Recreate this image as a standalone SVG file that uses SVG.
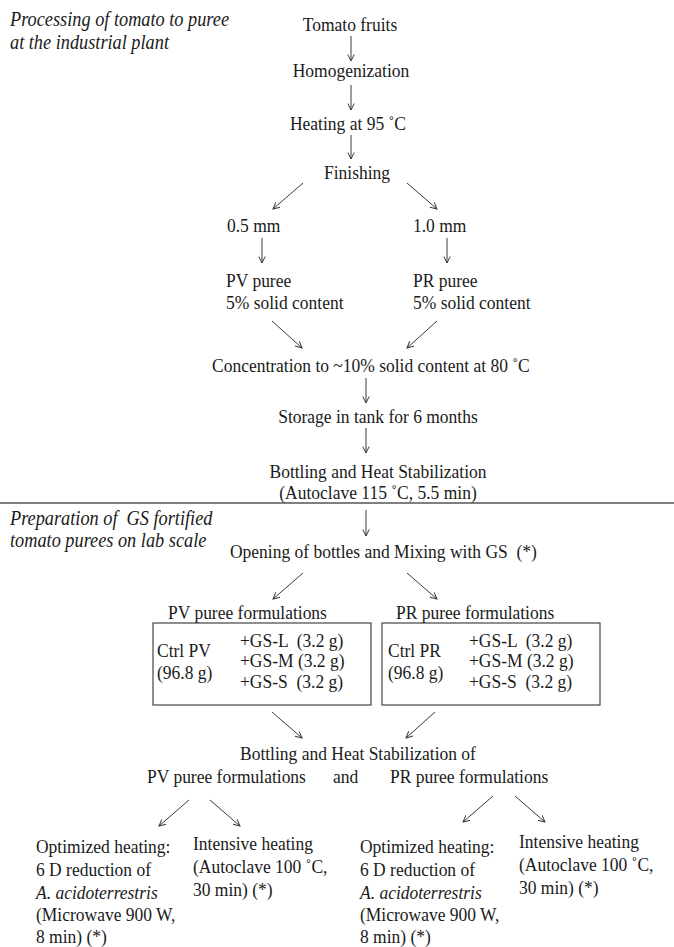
<svg xmlns="http://www.w3.org/2000/svg" width="674" height="947" viewBox="0 0 674 947">
<style>
text{font-family:"Liberation Serif","Times New Roman",serif;font-size:17.5px;fill:#1a1a1a;white-space:pre}
.it{font-style:italic}
.lab{font-size:18.3px}
.m{text-anchor:middle}
.c{stroke:#3a3a3a;stroke-width:1;fill:none;marker-end:url(#ah)}
.box{fill:none;stroke:#444;stroke-width:1.2}
</style>
<defs>
<marker id="ah" markerWidth="10" markerHeight="10" refX="7" refY="4" orient="auto" markerUnits="userSpaceOnUse">
<path d="M0.5,0.8 L7,4 L0.5,7.2" fill="none" stroke="#3a3a3a" stroke-width="1"/>
</marker>
</defs>
<rect width="674" height="947" fill="#fff"/>
<g id="section-labels">
<text class="it lab" x="10" y="26" transform="matrix(1 0 0 1.1 0 -2.6)">Processing of tomato to puree</text>
<text class="it lab" x="10" y="49" transform="matrix(1 0 0 1.1 0 -4.9)">at the industrial plant</text>
<text class="it lab" x="10" y="525" transform="matrix(1 0 0 1.1 0 -52.5)">Preparation of  GS fortified</text>
<text class="it lab" x="10" y="547" transform="matrix(1 0 0 1.1 0 -54.7)">tomato purees on lab scale</text>
</g>
<line id="separator" x1="0" y1="503" x2="674" y2="503" stroke="#555" stroke-width="1.5"/>
<g id="n-tomato"><text class="m" x="350" y="31" transform="matrix(1 0 0 1.1 0 -3.1)">Tomato fruits</text></g>
<g id="n-homog"><text class="m" x="351" y="77" transform="matrix(1 0 0 1.1 0 -7.7)">Homogenization</text></g>
<g id="n-heating"><text class="m" x="348" y="130" transform="matrix(1 0 0 1.1 0 -13)">Heating at 95 ˚C</text></g>
<g id="n-finishing"><text class="m" x="357" y="179" transform="matrix(1 0 0 1.1 0 -17.9)">Finishing</text></g>
<g id="n-05"><text x="227" y="232" transform="matrix(1 0 0 1.1 0 -23.2)">0.5 mm</text></g>
<g id="n-10"><text x="413" y="232" transform="matrix(1 0 0 1.1 0 -23.2)">1.0 mm</text></g>
<g id="n-pv"><text x="226" y="287" transform="matrix(1 0 0 1.1 0 -28.7)">PV puree</text><text x="226" y="309" transform="matrix(1 0 0 1.1 0 -30.9)">5% solid content</text></g>
<g id="n-pr"><text x="413" y="287" transform="matrix(1 0 0 1.1 0 -28.7)">PR puree</text><text x="413" y="309" transform="matrix(1 0 0 1.1 0 -30.9)">5% solid content</text></g>
<g id="n-conc"><text x="212" y="372" transform="matrix(1 0 0 1.1 0 -37.2)">Concentration to ~10% solid content at 80 ˚C</text></g>
<g id="n-storage"><text class="m" x="378" y="423" transform="matrix(1 0 0 1.1 0 -42.3)">Storage in tank for 6 months</text></g>
<g id="n-bottling1"><text class="m" x="378" y="478" transform="matrix(1 0 0 1.1 0 -47.8)">Bottling and Heat Stabilization</text><text class="m" x="378" y="499" transform="matrix(1 0 0 1.1 0 -49.9)">(Autoclave 115 ˚C, 5.5 min)</text></g>
<g id="n-opening"><text x="230" y="558" transform="matrix(1 0 0 1.1 0 -55.8)">Opening of bottles and Mixing with GS  (*)</text></g>
<g id="n-pvform">
<text x="168" y="619" transform="matrix(1 0 0 1.1 0 -61.9)">PV puree formulations</text>
<rect class="box" x="153" y="623" width="218" height="82"/>
<text x="157" y="657" transform="matrix(1 0 0 1.1 0 -65.7)">Ctrl PV</text>
<text x="157" y="679" transform="matrix(1 0 0 1.1 0 -67.9)">(96.8 g)</text>
<text x="240" y="647" transform="matrix(1 0 0 1.1 0 -64.7)">+GS-L  (3.2 g)</text>
<text x="240" y="667" transform="matrix(1 0 0 1.1 0 -66.7)">+GS-M (3.2 g)</text>
<text x="240" y="688" transform="matrix(1 0 0 1.1 0 -68.8)">+GS-S  (3.2 g)</text>
</g>
<g id="n-prform">
<text x="396" y="619" transform="matrix(1 0 0 1.1 0 -61.9)">PR puree formulations</text>
<rect class="box" x="382" y="623" width="218" height="82"/>
<text x="388" y="657" transform="matrix(1 0 0 1.1 0 -65.7)">Ctrl PR</text>
<text x="388" y="679" transform="matrix(1 0 0 1.1 0 -67.9)">(96.8 g)</text>
<text x="469" y="647" transform="matrix(1 0 0 1.1 0 -64.7)">+GS-L  (3.2 g)</text>
<text x="469" y="667" transform="matrix(1 0 0 1.1 0 -66.7)">+GS-M (3.2 g)</text>
<text x="469" y="688" transform="matrix(1 0 0 1.1 0 -68.8)">+GS-S  (3.2 g)</text>
</g>
<g id="n-bottling2">
<text x="240" y="760" transform="matrix(1 0 0 1.1 0 -76)">Bottling and Heat Stabilization of</text>
<text x="147" y="783" transform="matrix(1 0 0 1.1 0 -78.3)">PV puree formulations</text>
<text x="333" y="783" transform="matrix(1 0 0 1.1 0 -78.3)">and</text>
<text x="390" y="783" transform="matrix(1 0 0 1.1 0 -78.3)">PR puree formulations</text>
</g>
<g id="n-opt-pv">
<text x="36" y="853" transform="matrix(1 0 0 1.1 0 -85.3)">Optimized heating:</text>
<text x="36" y="876" transform="matrix(1 0 0 1.1 0 -87.6)">6 D reduction of</text>
<text class="it" x="36" y="899" transform="matrix(1 0 0 1.1 0 -89.9)">A. acidoterrestris</text>
<text x="36" y="921" transform="matrix(1 0 0 1.1 0 -92.1)">(Microwave 900 W,</text>
<text x="36" y="943" transform="matrix(1 0 0 1.1 0 -94.3)">8 min) (*)</text>
</g>
<g id="n-int-pv">
<text x="193" y="850" transform="matrix(1 0 0 1.1 0 -85)">Intensive heating</text>
<text x="193" y="873" transform="matrix(1 0 0 1.1 0 -87.3)">(Autoclave 100 ˚C,</text>
<text x="193" y="896" transform="matrix(1 0 0 1.1 0 -89.6)">30 min) (*)</text>
</g>
<g id="n-opt-pr">
<text x="360" y="853" transform="matrix(1 0 0 1.1 0 -85.3)">Optimized heating:</text>
<text x="360" y="876" transform="matrix(1 0 0 1.1 0 -87.6)">6 D reduction of</text>
<text class="it" x="360" y="899" transform="matrix(1 0 0 1.1 0 -89.9)">A. acidoterrestris</text>
<text x="360" y="921" transform="matrix(1 0 0 1.1 0 -92.1)">(Microwave 900 W,</text>
<text x="360" y="943" transform="matrix(1 0 0 1.1 0 -94.3)">8 min) (*)</text>
</g>
<g id="n-int-pr">
<text x="519" y="848" transform="matrix(1 0 0 1.1 0 -84.8)">Intensive heating</text>
<text x="519" y="871" transform="matrix(1 0 0 1.1 0 -87.1)">(Autoclave 100 ˚C,</text>
<text x="519" y="894" transform="matrix(1 0 0 1.1 0 -89.4)">30 min) (*)</text>
</g>
<g id="connectors">
<line class="c" x1="351" y1="36" x2="351" y2="61"/>
<line class="c" x1="351" y1="85" x2="351" y2="110"/>
<line class="c" x1="351" y1="135" x2="351" y2="159"/>
<line class="c" x1="303" y1="183" x2="273" y2="209"/>
<line class="c" x1="407" y1="183" x2="437" y2="209"/>
<line class="c" x1="262" y1="238" x2="262" y2="263"/>
<line class="c" x1="447" y1="238" x2="447" y2="263"/>
<line class="c" x1="272" y1="321" x2="302" y2="348"/>
<line class="c" x1="437" y1="321" x2="407" y2="348"/>
<line class="c" x1="366" y1="378" x2="366" y2="403"/>
<line class="c" x1="366" y1="428" x2="366" y2="453"/>
<line class="c" x1="366" y1="510" x2="366" y2="536"/>
<line class="c" x1="303" y1="573" x2="273" y2="599"/>
<line class="c" x1="407" y1="573" x2="437" y2="599"/>
<line class="c" x1="272" y1="712" x2="302" y2="738"/>
<line class="c" x1="435" y1="712" x2="406" y2="738"/>
<line class="c" x1="189" y1="800" x2="159" y2="826"/>
<line class="c" x1="210" y1="800" x2="240" y2="826"/>
<line class="c" x1="493" y1="796" x2="463" y2="822"/>
<line class="c" x1="515" y1="796" x2="545" y2="822"/>
</g>
</svg>
